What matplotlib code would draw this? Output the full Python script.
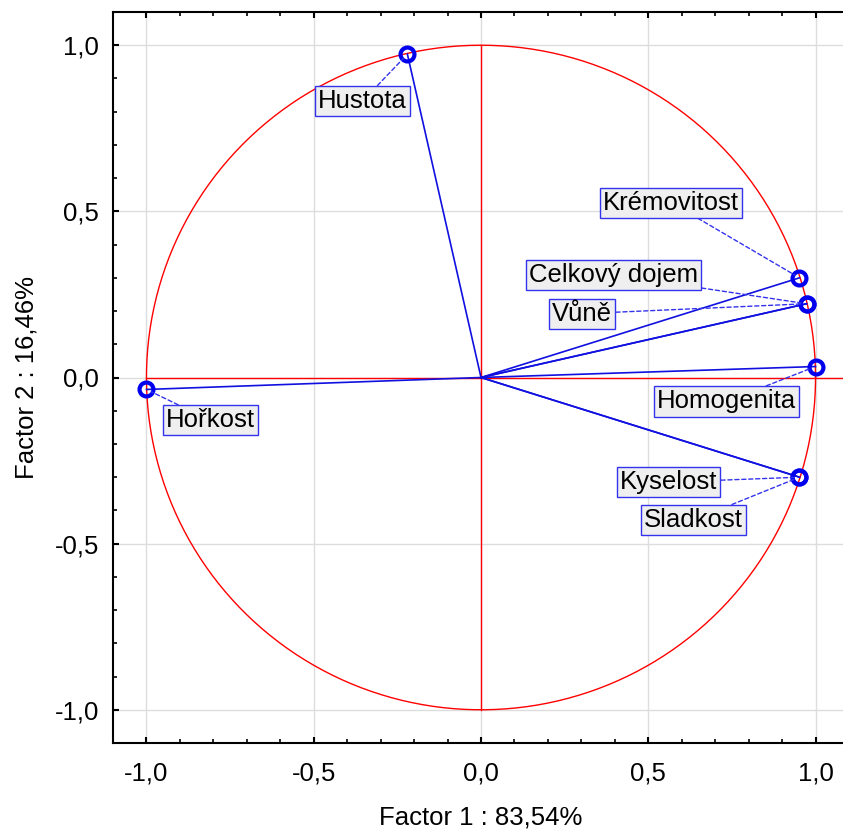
import numpy as np
import matplotlib.pyplot as plt
from matplotlib.ticker import MultipleLocator, FuncFormatter

plt.rcParams['font.family'] = ['Liberation Sans', 'DejaVu Sans']

# Souřadnice proměnných (faktorové zátěže)
names = ['Hustota', 'Hořkost', 'Krémovitost', 'Celkový dojem', 'Vůně',
         'Homogenita', 'Kyselost', 'Sladkost']
f1 = [-0.22, -1.00, 0.952, 0.973, 0.973, 1.00, 0.952, 0.952]
f2 = [0.973, -0.036, 0.300, 0.222, 0.222, 0.033, -0.300, -0.300]
# pozice popisků
lab_x = [-0.354, -0.809, 0.569, 0.396, 0.303, 0.734, 0.561, 0.635]
lab_y = [0.832, -0.129, 0.526, 0.309, 0.192, -0.072, -0.315, -0.429]

xlabel = 'Factor 1 : 83,54%'
ylabel = 'Factor 2 : 16,46%'

fig = plt.figure(figsize=(8.43, 8.31), dpi=100)
ax = fig.add_axes([113 / 843, 88 / 831, 736 / 843, 731 / 831])
ax.set_xlim(-1.1, 1.1)
ax.set_ylim(-1.1, 1.1)

# kruh a osy
t = np.linspace(0, 2 * np.pi, 400)
ax.plot(np.cos(t), np.sin(t), color='red', lw=1, zorder=2)
ax.plot([-1, 1.1], [0, 0], color='red', lw=1, zorder=2)
ax.plot([0, 0], [-1, 1], color='red', lw=1, zorder=2)

for x, y in zip(f1, f2):
    ax.plot([0, x], [0, y], color='#1010e0', lw=1.2, zorder=3)
ax.plot(f1, f2, 'o', ms=10, mfc='none', mec='#0000ee', mew=3, zorder=4)

for n, x, y, lx, ly in zip(names, f1, f2, lab_x, lab_y):
    ax.annotate(n, xy=(x, y), xytext=(lx, ly), ha='center', va='center',
                fontsize=18.5, zorder=5,
                bbox=dict(boxstyle='square,pad=0.12', fc='#efefef', ec='#3333ee', lw=1),
                arrowprops=dict(arrowstyle='-', color='#3333ee', ls=(0, (3, 2)), lw=1,
                                shrinkA=0, shrinkB=4))

ax.xaxis.set_major_locator(MultipleLocator(0.5))
ax.yaxis.set_major_locator(MultipleLocator(0.5))
ax.xaxis.set_minor_locator(MultipleLocator(0.1))
ax.yaxis.set_minor_locator(MultipleLocator(0.1))
fmt = FuncFormatter(lambda v, p: ('%.1f' % v).replace('.', ',').replace('-0,0', '0,0'))
ax.xaxis.set_major_formatter(fmt)
ax.yaxis.set_major_formatter(fmt)
ax.tick_params(which='both', direction='in', top=True, right=True, labelsize=18.5)
ax.tick_params(axis='x', pad=13)
ax.tick_params(axis='y', pad=10)
ax.tick_params(which='major', length=4, width=1.5)
ax.tick_params(which='minor', length=3, width=1.2)
ax.grid(True, which='major', color='#dddddd', lw=1, zorder=0)
ax.set_axisbelow(True)
for s in ax.spines.values():
    s.set_linewidth(1.5)

ax.set_xlabel(xlabel, fontsize=18.5, labelpad=15)
ax.set_ylabel(ylabel, fontsize=18.5, labelpad=12)

fig.savefig('out.png', dpi=100)
